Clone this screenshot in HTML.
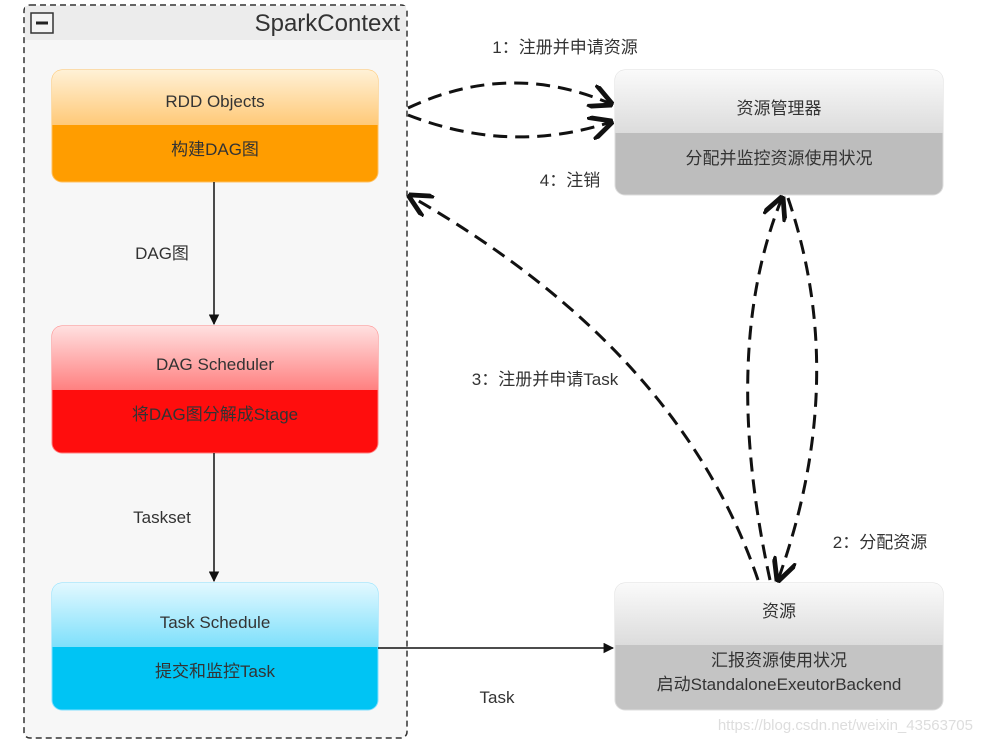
<!DOCTYPE html>
<html><head><meta charset="utf-8"><style>
body{margin:0;background:#fff}
text{font-family:"Liberation Sans","Noto Sans CJK SC",sans-serif}
</style></head><body>
<svg width="983" height="743" viewBox="0 0 983 743" xmlns="http://www.w3.org/2000/svg">
<defs>
<linearGradient id="o" x1="0" y1="0" x2="0" y2="1"><stop offset="0" stop-color="#fff1d6"/><stop offset="1" stop-color="#ffc978"/></linearGradient>
<linearGradient id="r" x1="0" y1="0" x2="0" y2="1"><stop offset="0" stop-color="#ffe0e0"/><stop offset="1" stop-color="#ff8080"/></linearGradient>
<linearGradient id="b" x1="0" y1="0" x2="0" y2="1"><stop offset="0" stop-color="#e2f8ff"/><stop offset="1" stop-color="#7ee0fb"/></linearGradient>
<linearGradient id="g" x1="0" y1="0" x2="0" y2="1"><stop offset="0" stop-color="#fafafa"/><stop offset="1" stop-color="#dcdcdc"/></linearGradient>
<marker id="a" viewBox="0 0 10 10" refX="9" refY="5" markerWidth="7" markerHeight="7" orient="auto"><path d="M0,0 L10,5 L0,10 Z" fill="#111"/></marker>
<marker id="v" viewBox="0 0 10 10" refX="9" refY="5" markerWidth="8" markerHeight="8" orient="auto"><path d="M0,0 L10,5 L0,10" fill="none" stroke="#111" stroke-width="2"/></marker>
</defs>
<rect x="24" y="5" width="383" height="733" rx="6" fill="#f7f7f7" stroke="#333" stroke-width="1.5" stroke-dasharray="6,4"/>
<rect x="25" y="6" width="381" height="34" fill="#ececec"/>
<rect x="31" y="13" width="22" height="20" fill="#f4f4f4" stroke="#333" stroke-width="1.5"/>
<line x1="36" y1="23" x2="48" y2="23" stroke="#222" stroke-width="3"/>
<text x="400" y="31" font-size="24" fill="#333" text-anchor="end">SparkContext</text>

<rect x="52" y="70" width="326" height="112" rx="10" fill="#ff9d00" stroke="#ffc060"/>
<path d="M52,125 V80 a10,10 0 0 1 10,-10 H368 a10,10 0 0 1 10,10 V125 Z" fill="url(#o)"/>
<text x="215" y="107" font-size="17" fill="#333" text-anchor="middle">RDD Objects</text>
<text x="215" y="155" font-size="17" fill="#333" text-anchor="middle">构建DAG图</text>

<rect x="52" y="326" width="326" height="127" rx="10" fill="#ff0d0d" stroke="#ff8080"/>
<path d="M52,390 V336 a10,10 0 0 1 10,-10 H368 a10,10 0 0 1 10,10 V390 Z" fill="url(#r)"/>
<text x="215" y="370" font-size="17" fill="#333" text-anchor="middle">DAG Scheduler</text>
<text x="215" y="420" font-size="17" fill="#333" text-anchor="middle">将DAG图分解成Stage</text>

<rect x="52" y="583" width="326" height="127" rx="10" fill="#00c4f4" stroke="#80dfff"/>
<path d="M52,647 V593 a10,10 0 0 1 10,-10 H368 a10,10 0 0 1 10,10 V647 Z" fill="url(#b)"/>
<text x="215" y="628" font-size="17" fill="#333" text-anchor="middle">Task Schedule</text>
<text x="215" y="677" font-size="17" fill="#333" text-anchor="middle">提交和监控Task</text>

<rect x="615" y="70" width="328" height="125" rx="10" fill="#bdbdbd" stroke="#ddd"/>
<path d="M615,133 V80 a10,10 0 0 1 10,-10 H933 a10,10 0 0 1 10,10 V133 Z" fill="url(#g)"/>
<text x="779" y="114" font-size="17" fill="#333" text-anchor="middle">资源管理器</text>
<text x="779" y="164" font-size="17" fill="#333" text-anchor="middle">分配并监控资源使用状况</text>

<rect x="615" y="583" width="328" height="127" rx="10" fill="#c4c4c4" stroke="#ddd"/>
<path d="M615,645 V593 a10,10 0 0 1 10,-10 H933 a10,10 0 0 1 10,10 V645 Z" fill="url(#g)"/>
<text x="779" y="617" font-size="17" fill="#333" text-anchor="middle">资源</text>
<text x="779" y="666" font-size="17" fill="#333" text-anchor="middle">汇报资源使用状况</text>
<text x="779" y="690" font-size="17" fill="#333" text-anchor="middle">启动StandaloneExeutorBackend</text>
<text x="973" y="730" font-size="15" fill="#ddd" text-anchor="end">https://blog.csdn.net/weixin_43563705</text>

<line x1="214" y1="182" x2="214" y2="324" stroke="#111" stroke-width="1.5" marker-end="url(#a)"/>
<line x1="214" y1="453" x2="214" y2="581" stroke="#111" stroke-width="1.5" marker-end="url(#a)"/>
<line x1="378" y1="648" x2="613" y2="648" stroke="#111" stroke-width="1.5" marker-end="url(#a)"/>
<text x="162" y="259" font-size="17" fill="#333" text-anchor="middle">DAG图</text>
<text x="162" y="523" font-size="17" fill="#333" text-anchor="middle">Taskset</text>
<text x="497" y="703" font-size="17" fill="#333" text-anchor="middle">Task</text>

<g fill="none" stroke="#111" stroke-width="3" stroke-dasharray="14,8">
<path d="M408,108 Q510,60 611,104" marker-end="url(#v)"/>
<path d="M408,115 Q510,155 611,122" marker-end="url(#v)"/>
<path d="M758,580 Q680,350 410,196" marker-end="url(#v)"/>
<path d="M770,580 Q720,350 782,198" marker-end="url(#v)"/>
<path d="M788,198 Q850,380 778,580" marker-end="url(#v)"/>
</g>
<text x="565" y="53" font-size="17" fill="#333" text-anchor="middle">1：注册并申请资源</text>
<text x="570" y="186" font-size="17" fill="#333" text-anchor="middle">4：注销</text>
<text x="545" y="385" font-size="17" fill="#333" text-anchor="middle">3：注册并申请Task</text>
<text x="880" y="548" font-size="17" fill="#333" text-anchor="middle">2：分配资源</text>
</svg>
</body></html>
